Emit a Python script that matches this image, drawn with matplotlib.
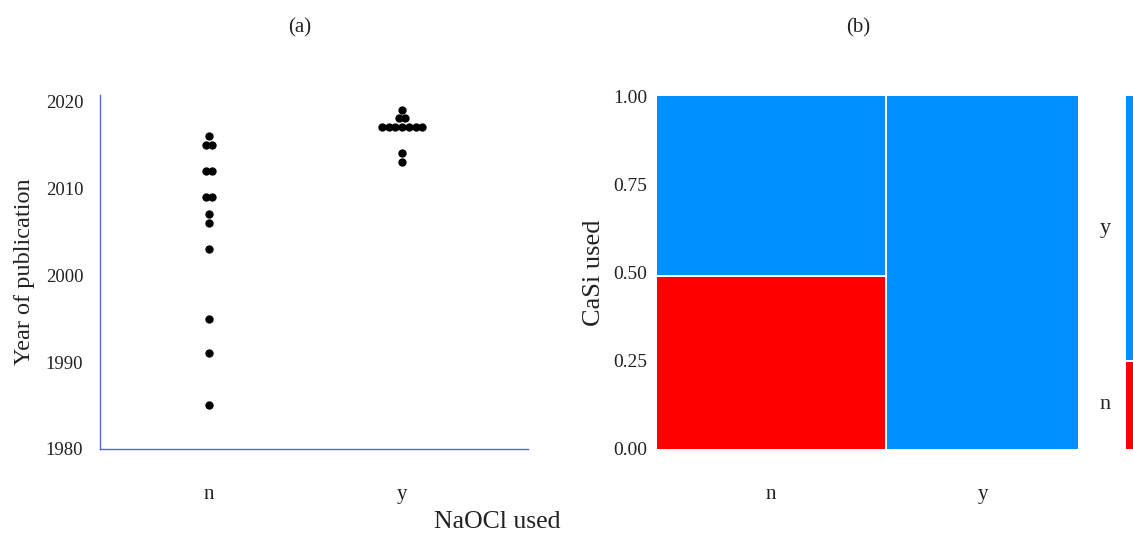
import numpy as np
import matplotlib.pyplot as plt
from collections import Counter

plt.rcParams['font.family'] = ['Liberation Serif', 'DejaVu Serif']

# (a) year of publication per study, grouped by NaOCl use
groups = ["n", "y"]
years_n = [2016, 2015, 2015, 2012, 2012, 2009, 2009, 2007, 2006, 2003, 1995, 1991, 1985]
years_y = [2019, 2018, 2018, 2017, 2017, 2017, 2017, 2017, 2017, 2017, 2014, 2013]
year_ticks = [1980, 1990, 2000, 2010, 2020]

# (b) mosaic: column widths (NaOCl share) and CaSi "n" share per column
naocl_share = [0.542, 0.458]
casi_n_share = [0.49, 0.0]
casi_n_overall = 0.25
prop_ticks = [0.0, 0.25, 0.50, 0.75, 1.00]

text_col = "#222222"
blue = "#0090FF"
red = "#FF0000"
spine_col = "#5566DD"

fig = plt.figure(figsize=(11.33, 5.34), dpi=100)

# ---- panel (a)
ax1 = fig.add_axes([0.0883, 0.1592, 0.3778, 0.6629])
step = 0.035
for xi, years in enumerate([years_n, years_y], start=1):
    counts = Counter(years)
    for yr, k in counts.items():
        offs = (np.arange(k) - (k - 1) / 2) * step
        ax1.scatter(xi + offs, [yr] * k, s=36, color="black", zorder=3, linewidths=0)
ax1.set_xlim(0.435, 2.653)
ax1.set_ylim(1980, 2020.7)
ax1.set_xticks([1, 2])
ax1.set_xticklabels(groups)
ax1.set_yticks(year_ticks)
for s in ["top", "right"]:
    ax1.spines[s].set_visible(False)
for s in ["left", "bottom"]:
    ax1.spines[s].set_color(spine_col)
    ax1.spines[s].set_linewidth(1.0)
ax1.tick_params(axis="y", length=0, pad=12, labelsize=13.5, labelcolor=text_col)
ax1.tick_params(axis="x", length=0, pad=26, labelsize=15, labelcolor=text_col)
ax1.set_ylabel("Year of publication", fontsize=17.5, color=text_col, labelpad=8)

# ---- panel (b)
ax2 = fig.add_axes([0.5799, 0.1592, 0.3716, 0.6610])
gap = 0.005
lefts = np.concatenate([[0], np.cumsum(naocl_share)[:-1]])
centers = []
for i, (l, w, r) in enumerate(zip(lefts, naocl_share, casi_n_share)):
    l0 = l + (gap if i > 0 else 0)
    w0 = w - (gap if i > 0 else 0)
    centers.append(l0 + w0 / 2)
    if r > 0:
        ax2.bar(l0, r - 0.004, width=w0, bottom=0, align="edge", color=red, linewidth=0)
        ax2.bar(l0, 1 - r - 0.004, width=w0, bottom=r + 0.004, align="edge", color=blue, linewidth=0)
    else:
        ax2.bar(l0, 1, width=w0, bottom=0, align="edge", color=blue, linewidth=0)
ax2.set_xlim(0, 1)
ax2.set_ylim(0, 1)
ax2.set_xticks(centers)
ax2.set_xticklabels(groups)
ax2.set_yticks(prop_ticks)
ax2.set_yticklabels([f"{v:.2f}" for v in prop_ticks])
for s in ax2.spines.values():
    s.set_visible(False)
ax2.tick_params(axis="y", length=0, pad=7, labelsize=14, labelcolor=text_col)
ax2.tick_params(axis="x", length=0, pad=26, labelsize=15, labelcolor=text_col)
ax2.set_ylabel("CaSi used", fontsize=19, color=text_col, labelpad=6)

# ---- marginal strip (cut off at the right edge)
ax3 = fig.add_axes([0.9938, 0.1592, 0.012, 0.6610])
ax3.bar(0, casi_n_overall - 0.003, width=1, bottom=0, align="edge", color=red, linewidth=0)
ax3.bar(0, 1 - casi_n_overall - 0.003, width=1, bottom=casi_n_overall + 0.003,
        align="edge", color=blue, linewidth=0)
ax3.set_xlim(0, 1)
ax3.set_ylim(0, 1)
ax3.axis("off")
ax3.text(-1.55, (1 + casi_n_overall) / 2, "y", ha="center", va="center", fontsize=16,
         color=text_col, transform=ax3.transData, clip_on=False)
ax3.text(-1.55, casi_n_overall / 2, "n", ha="center", va="center", fontsize=16,
         color=text_col, transform=ax3.transData, clip_on=False)

# ---- titles and shared x label
fig.text(300 / 1133, 1 - 28 / 534, "(a)", ha="center", va="center", fontsize=15, color=text_col)
fig.text(858 / 1133, 1 - 28 / 534, "(b)", ha="center", va="center", fontsize=15, color=text_col)
fig.text(497 / 1133, 1 - 522 / 534, "NaOCl used", ha="center", va="center", fontsize=18.5, color=text_col)

fig.savefig("out.png", dpi=100)
